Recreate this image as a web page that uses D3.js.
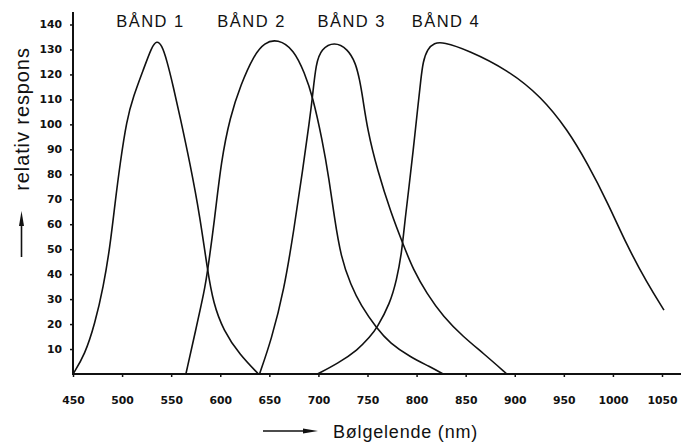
<!DOCTYPE html>
<html>
<head>
<meta charset="utf-8">
<script src="https://cdn.jsdelivr.net/npm/d3@7"></script>
<style>
  body { margin: 0; background: #fff; }
  svg { display: block; }
</style>
</head>
<body>
<svg id="chart" width="681" height="443"></svg>
<script>
// Wavelength (nm) and relative response values for the four sensor bands
const wavelengthTicks = [450, 500, 550, 600, 650, 700, 750, 800, 850, 900, 950, 1000, 1050];
const responseTicks = [10, 20, 30, 40, 50, 60, 70, 80, 90, 100, 110, 120, 130, 140];
const bandNames = ["BÅND 1", "BÅND 2", "BÅND 3", "BÅND 4"];

const band1 = [
  [450, 0], [462, 7.6], [472.4, 20.3], [481, 35], [487.7, 51], [492.8, 68.4], [498, 84.4],
  [504.7, 101.7], [511.4, 111.1], [521.6, 121.8], [530.2, 131.1], [535.3, 133.6],
  [540.4, 131.8], [545.5, 125.8], [552.2, 115.1], [559, 103.1], [569.2, 84.4],
  [579.4, 63], [587, 41.5], [593, 28.3], [603, 17.6], [620, 7.6], [639, 0]
];
const band2 = [
  [565, 0], [575, 17.6], [584, 33.6], [587, 41], [594, 61], [601, 85.5], [610, 103],
  [621, 116], [634, 127.5], [645, 132.8], [658.5, 134.2], [675, 130], [686, 120.5],
  [694, 111.4], [704, 93.7], [711, 77.7], [716, 63.3], [723, 46.5], [733, 35.7],
  [743, 27.6], [759.4, 18.3], [773, 12.3], [793.3, 6.9], [813.7, 2.9], [827, 0]
];
const band3 = [
  [640, 0], [652, 13.6], [665, 33.6], [675, 57.7], [684, 81.7], [691, 101.7], [694, 111.1],
  [697.5, 124.5], [703, 130.2], [716, 133.2], [730, 130.2], [738, 124.5], [742, 117.8],
  [745, 111.1], [750, 97.7], [760, 81.7], [774, 64.4], [786.5, 51.7], [796.7, 41.7],
  [810.3, 32.3], [827.2, 22.9], [847.6, 14.9], [868, 8.3], [892, 0]
];
const band4 = [
  [699, 0], [720, 4.3], [740, 9.6], [752.5, 14.9], [759.4, 18.3], [773, 28.3], [779.7, 37.7],
  [784.8, 48.4], [788.2, 61.7], [792.3, 75], [796.4, 89], [801, 106], [804.5, 118.5],
  [806.5, 125], [811, 130.2], [818, 132.6], [827, 133], [852, 129.8], [893, 121.8],
  [927, 111.1], [954, 97.7], [974, 84.4], [995, 68.4], [1014, 51.7], [1035, 36.3],
  [1052, 25.6]
];
const bands = [band1, band2, band3, band4];

const svg = d3.select("#chart");

const x = d3.scaleLinear().domain([450, 1050]).range([73, 662]);
const y = d3.scaleLinear().domain([0, 140]).range([374, 24.5]);

const ink = "#111";

// Axis lines
svg.append("line")
  .attr("x1", x(450)).attr("x2", 681)
  .attr("y1", y(0)).attr("y2", y(0))
  .attr("stroke", ink).attr("stroke-width", 2);
svg.append("line")
  .attr("x1", x(450)).attr("x2", x(450))
  .attr("y1", 12).attr("y2", y(0) + 1)
  .attr("stroke", ink).attr("stroke-width", 2);

// Wavelength axis: ticks and labels
const xAxis = d3.axisBottom(x)
  .tickValues(wavelengthTicks)
  .tickSize(3)
  .tickPadding(19)
  .tickFormat(d3.format("d"));
const gx = svg.append("g")
  .attr("transform", `translate(0,${y(0)})`)
  .call(xAxis);
gx.select(".domain").remove();
gx.selectAll(".tick line").attr("stroke", ink).attr("stroke-width", 1.5);
gx.selectAll(".tick text")
  .attr("fill", ink)
  .style("font-family", "'DejaVu Sans', sans-serif")
  .style("font-weight", "bold")
  .style("font-size", "10.8px");

// Response axis: ticks and labels
const yAxis = d3.axisLeft(y)
  .tickValues(responseTicks)
  .tickSize(3)
  .tickPadding(8)
  .tickFormat(d3.format("d"));
const gy = svg.append("g")
  .attr("transform", `translate(${x(450)},0)`)
  .call(yAxis);
gy.select(".domain").remove();
gy.selectAll(".tick line").attr("stroke", ink).attr("stroke-width", 1.5);
gy.selectAll(".tick text")
  .attr("fill", ink)
  .style("font-family", "'DejaVu Sans', sans-serif")
  .style("font-weight", "bold")
  .style("font-size", "10.8px");

// Response curves (B-spline through the sampled points)
const line = d3.line()
  .x(d => x(d[0]))
  .y(d => y(d[1]))
  .curve(d3.curveBasis);

svg.append("g")
  .selectAll("path")
  .data(bands)
  .join("path")
  .attr("d", line)
  .attr("fill", "none")
  .attr("stroke", ink)
  .attr("stroke-width", 1.6)
  .attr("stroke-linejoin", "round");

// Band names above the peaks
const labelStartNm = [494, 597, 699, 795];
svg.append("g")
  .selectAll("text")
  .data(bandNames)
  .join("text")
  .attr("x", (d, i) => x(labelStartNm[i]))
  .attr("y", 27)
  .attr("fill", ink)
  .style("font-family", "'Liberation Sans', Arial, sans-serif")
  .style("font-size", "16.5px")
  .style("letter-spacing", "1.5px")
  .text(d => d);

// Y axis title with upward arrow
svg.append("text")
  .attr("transform", "translate(29,119) rotate(-90)")
  .attr("text-anchor", "middle")
  .attr("fill", ink)
  .style("font-family", "'Liberation Sans', Arial, sans-serif")
  .style("font-size", "20px")
  .style("letter-spacing", "0.9px")
  .text("relativ respons");

svg.append("line")
  .attr("x1", 21.5).attr("x2", 21.5)
  .attr("y1", 222).attr("y2", 257)
  .attr("stroke", ink).attr("stroke-width", 1.6);
svg.append("path")
  .attr("d", "M21.5,211 L24,226 L19,226 Z")
  .attr("fill", ink);

// X axis title with rightward arrow
svg.append("line")
  .attr("x1", 263).attr("x2", 306)
  .attr("y1", 431).attr("y2", 431)
  .attr("stroke", ink).attr("stroke-width", 1.6);
svg.append("path")
  .attr("d", "M318,431 L303,428.5 L303,433.5 Z")
  .attr("fill", ink);

svg.append("text")
  .attr("x", 333)
  .attr("y", 438)
  .attr("fill", ink)
  .style("font-family", "'Liberation Sans', Arial, sans-serif")
  .style("font-size", "18px")
  .style("letter-spacing", "0.8px")
  .text("Bølgelende (nm)");
</script>
</body>
</html>
